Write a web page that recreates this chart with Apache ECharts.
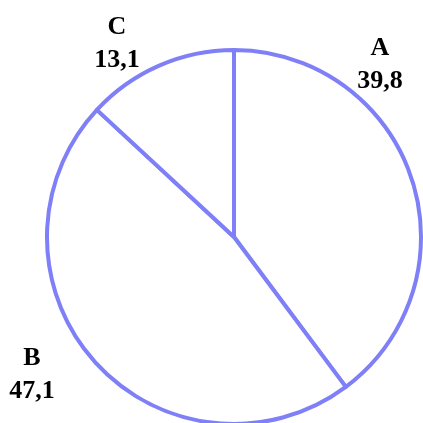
<!DOCTYPE html>
<html>
<head>
<meta charset="utf-8">
<script src="https://cdn.jsdelivr.net/npm/echarts@6/dist/echarts.min.js"></script>
<style>
  html, body { margin: 0; padding: 0; background: #fff; }
  #chart { width: 423px; height: 423px; }
</style>
</head>
<body>
<div id="chart"></div>
<script>
const categories = ['A', 'B', 'C'];
const values = [39.8, 47.1, 13.1];

// where each label block sits (pixel centre), kept apart from the data
const labelSpots = [[380, 65], [32, 375], [117, 44]];

const chart = echarts.init(document.getElementById('chart'));

chart.setOption({
  backgroundColor: '#fff',
  animation: false,
  series: [
    {
      type: 'pie',
      center: [234, 237],
      radius: 187,
      startAngle: 90,
      clockwise: true,
      silent: true,
      data: categories.map((name, i) => ({ name, value: values[i] })),
      itemStyle: {
        color: '#ffffff',
        borderColor: '#7f7ff7',
        borderWidth: 4
      },
      label: {
        show: true,
        position: 'inside',
        overflow: 'none',
        formatter: p => p.name + '\n' + String(p.value).replace('.', ','),
        fontFamily: 'Liberation Serif',
        fontWeight: 'bold',
        fontSize: 26,
        lineHeight: 33,
        color: '#000',
        align: 'center'
      },
      labelLine: { show: false },
      labelLayout: params => ({
        x: labelSpots[params.dataIndex][0],
        y: labelSpots[params.dataIndex][1],
        align: 'center',
        verticalAlign: 'middle',
        hideOverlap: false,
        moveOverlap: false
      }),
      emphasis: { disabled: true }
    }
  ]
});
</script>
</body>
</html>
